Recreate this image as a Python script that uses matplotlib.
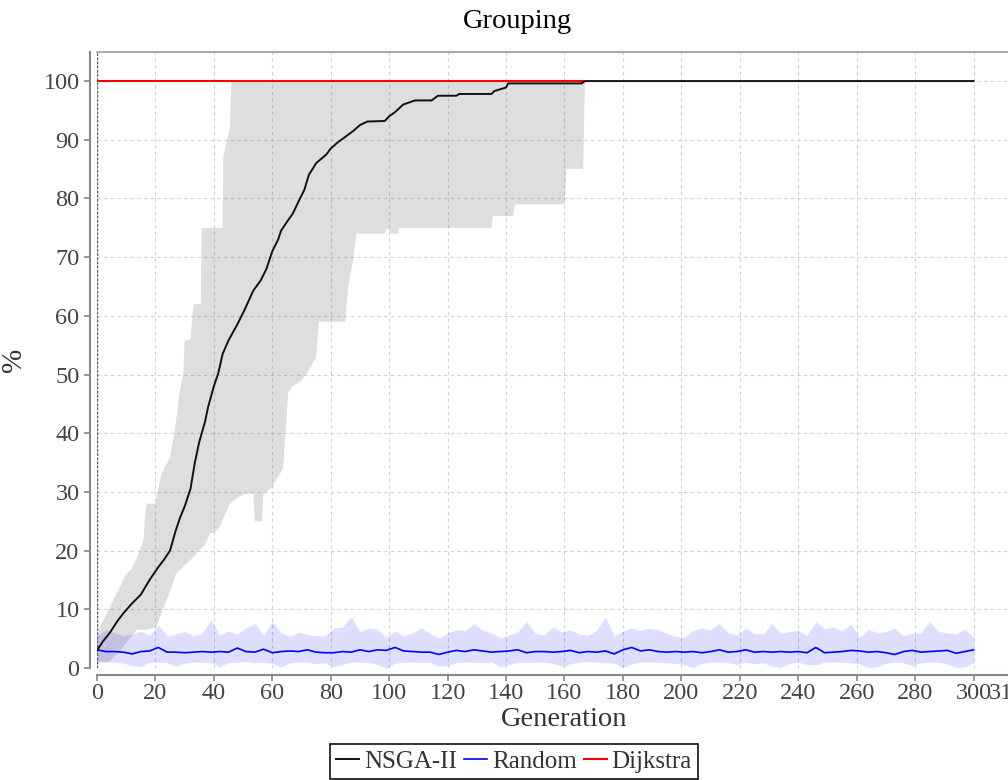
import numpy as np
import matplotlib
matplotlib.use('Agg')
import matplotlib.pyplot as plt
from matplotlib.ticker import FixedLocator, FixedFormatter

plt.rcParams['font.family'] = ['Liberation Serif', 'DejaVu Serif']

# NSGA-II mean (generation, %)
nsga_gen = [0, 2, 4.4, 7, 9, 12, 15, 18, 21, 23, 25, 27, 28.5, 30, 32, 33.5, 35, 37, 38, 40,
            41.5, 43, 45, 48, 50.5, 53.5, 56, 58, 60, 62, 63, 65, 67, 69, 71, 72.5, 75, 78.5,
            80, 82.5, 85, 87.7, 90, 92.5, 98.5, 100, 102, 104.8, 108.8, 114.5, 116.7, 123,
            124, 135, 136, 138, 140, 140.7, 165.8, 167, 300]
nsga_mean = [3, 4.5, 6, 8, 9.3, 11, 12.5, 15, 17.2, 18.5, 20, 23.5, 25.7, 27.5, 30.5, 35, 38.5,
             42, 44.4, 48, 50.2, 53.5, 55.8, 58.5, 61, 64.3, 66, 68, 71, 73, 74.5, 76, 77.4,
             79.5, 81.5, 84, 86, 87.5, 88.5, 89.6, 90.5, 91.5, 92.5, 93.1, 93.2, 94, 94.7, 96,
             96.7, 96.7, 97.5, 97.5, 97.8, 97.8, 98.3, 98.6, 98.9, 99.6, 99.6, 100, 100]

# NSGA-II band
up_gen = [0, 1, 3, 5.5, 8, 10, 12, 14.7, 16, 16.4, 17, 20, 22, 25, 26.5, 28.4, 29.5, 30, 32,
          33, 35.5, 35.8, 43, 43.2, 44.4, 45.5, 46, 167]
up_val = [5, 7, 9, 11.5, 14, 16, 17, 20, 22, 25.7, 28, 28, 33, 36, 40, 47.3, 50, 55.8, 56,
          62, 62, 75, 75, 87, 89.8, 92, 100, 100]
lo_gen = [0, 4, 8, 13.6, 17, 20.4, 22, 25, 27, 30, 32, 35, 37, 38.7, 40, 42, 45.5, 48, 51,
          53.5, 54, 56.5, 57, 60, 63.7, 64.5, 65.5, 67, 70, 72, 75, 76, 85, 86, 87.6, 88.8,
          98.5, 99.5, 100.5, 103, 103.6, 135, 135.5, 142.4, 143, 160, 160.7, 166.4, 167]
lo_val = [1, 1, 3, 6.5, 6.5, 7, 9.3, 13, 16, 17.5, 18.4, 20, 21, 23, 23, 24, 28, 29, 29.7,
          29.7, 25, 25, 29.7, 30.8, 34, 40, 47, 48, 49, 50.3, 53, 59, 59, 65, 69.4, 74, 74,
          75, 74, 74, 75, 75, 77, 77, 79, 79, 85, 85, 100]

# Random (every 3 generations)
rand_mean = [3.1, 2.8, 2.8, 2.7, 2.4, 2.8, 2.9, 3.5, 2.7, 2.7, 2.6, 2.7, 2.8, 2.7, 2.8, 2.7,
             3.4, 2.8, 2.7, 3.2, 2.6, 2.8, 2.9, 2.8, 3.1, 2.7,
             2.6, 2.6, 2.8, 2.7, 3.1, 2.8, 3.1, 3.0, 3.5, 2.9, 2.8, 2.7, 2.7, 2.3, 2.7, 3.0,
             2.8, 3.1, 2.9, 2.7, 2.8, 2.9, 3.1, 2.6, 2.8,
             2.8, 2.7, 2.8, 3.0, 2.6, 2.8, 2.7, 2.9, 2.4, 3.1, 3.5, 2.9, 3.1, 2.8, 2.7, 2.8,
             2.7, 2.8, 2.6, 2.8, 3.1, 2.7, 2.8, 3.1, 2.7,
             2.8, 2.7, 2.8, 2.7, 2.8, 2.6, 3.5, 2.6, 2.7, 2.8, 3.0, 2.9, 2.7, 2.8, 2.6, 2.3,
             2.8, 3.0, 2.7, 2.8, 2.9, 3.0, 2.5, 2.8, 3.1]
rand_up = [5.5, 6.5, 6.0, 5.5, 5.8, 6.3, 5.6, 7.3, 5.4, 5.8, 6.2, 5.5, 5.9, 8.2, 5.6, 6.3,
           5.8, 6.8, 7.6, 5.6, 7.9, 6.0, 5.4, 6.1, 5.7, 5.5,
           5.5, 6.8, 7.0, 8.7, 6.2, 6.8, 6.6, 5.2, 6.3, 5.5, 6.0, 6.8, 5.9, 5.1, 6.0, 6.5,
           6.4, 7.6, 6.4, 6.0, 5.1, 5.6, 6.2, 7.9, 5.9,
           5.6, 7.0, 6.1, 6.5, 5.8, 5.6, 6.4, 8.7, 5.5, 6.3, 6.8, 6.4, 6.8, 6.5, 5.9, 5.4,
           5.2, 6.4, 6.8, 6.5, 7.6, 6.0, 5.6, 6.8, 5.9,
           5.8, 7.6, 5.9, 6.2, 6.4, 5.5, 7.9, 6.7, 7.0, 6.3, 7.5, 5.2, 6.6, 6.0, 6.2, 6.8,
           5.5, 5.9, 6.0, 7.9, 6.2, 6.0, 5.8, 6.6, 5.3]
rand_lo = [1.2, 1.0, 1.0, 0.8, 0.4, 0.2, 1.0, 1.0, 0.9, 0.3, 0.8, 1.0, 1.0, 0.9, 0.2, 0.9,
           1.0, 1.1, 0.9, 1.0, 0.8, 0.1, 0.9, 1.0, 1.0, 0.7,
           0.9, 0.2, 0.6, 1.0, 1.0, 0.9, 0.6, 0.0, 0.8, 1.0, 1.0, 0.9, 1.0, 0.3, 0.4, 0.9,
           1.0, 1.0, 0.9, 1.0, 0.2, 0.6, 1.0, 0.9, 1.0,
           1.0, 0.8, 0.3, 0.7, 1.0, 1.1, 1.0, 0.9, 0.8, 0.1, 0.7, 1.0, 1.0, 1.0, 0.9, 0.8,
           0.5, 0.1, 0.8, 1.0, 1.0, 0.9, 0.6, 1.0, 0.7,
           0.9, 0.3, 0.1, 0.8, 1.0, 0.6, 0.5, 1.0, 1.0, 1.0, 0.9, 0.7, 0.1, 0.2, 0.8, 1.0,
           0.9, 0.4, 0.9, 1.0, 1.0, 0.7, 0.1, 0.2, 0.9]
rand_gen = np.arange(0, 301, 3)

dijkstra_gen = [0, 167]
dijkstra_val = [100, 100]

fig = plt.figure(figsize=(10.08, 7.8), dpi=100)
ax = fig.add_axes([0.0962, 0.1436, 0.9276, 0.7901])

# bands
ax.fill(up_gen + lo_gen[::-1], up_val + lo_val[::-1], color='#808080', alpha=0.26, lw=0)
ax.fill_between(rand_gen, rand_lo, rand_up, color='#0000ff', alpha=0.13, lw=0)

ax.axvline(0, color='#5555aa', lw=1, ls=(0, (2, 1)))
ax.plot(dijkstra_gen, dijkstra_val, color='#ff0000', lw=1.5, label='Dijkstra', zorder=3)
ax.plot(nsga_gen, nsga_mean, color='#111111', lw=1.4, label='NSGA-II', zorder=4)
ax.plot(rand_gen, rand_mean, color='#0000ff', lw=1.2, label='Random', zorder=4)

ax.set_xlim(0, 320)
ax.set_ylim(0, 105)

xt = list(range(0, 301, 20))
ax.xaxis.set_major_locator(FixedLocator(xt))
# partly cut label at the right edge, as in the source image
ax.xaxis.set_minor_locator(FixedLocator([311.5]))
ax.xaxis.set_minor_formatter(FixedFormatter(['310']))
ax.set_yticks(range(0, 101, 10))

ax.grid(True, which='major', color='#d0d0d0', ls=(0, (3, 3)), lw=0.8)
ax.set_axisbelow(True)

for s in ['left', 'bottom']:
    ax.spines[s].set_position(('outward', 5))
    ax.spines[s].set_color('#888888')
    ax.spines[s].set_linewidth(1.5)
ax.spines['top'].set_color('#999999')
ax.spines['top'].set_linewidth(1.2)
ax.spines['right'].set_visible(False)

ax.tick_params(which='both', labelsize=17.5, labelcolor='#444444', color='#888888',
               length=4, width=1.2)
ax.tick_params(axis='x', which='major', pad=2)
ax.tick_params(axis='x', which='minor', length=0, pad=6)

ax.set_xlabel('Generation', fontsize=20.5, color='#333333', labelpad=2)
ax.set_ylabel('%', fontsize=21, color='#333333', labelpad=12)
fig.text(0.513, 0.972, 'Grouping', ha='center', va='center', fontsize=20.5)

h, l = ax.get_legend_handles_labels()
order = [1, 2, 0]
leg = fig.legend([h[i] for i in order], [l[i] for i in order], loc='upper center',
                 bbox_to_anchor=(0.51, 0.046), ncol=3, fontsize=18, frameon=True,
                 fancybox=False, edgecolor='#111111', framealpha=1, handlelength=0.9,
                 handletextpad=0.2, columnspacing=0.3, borderpad=0.25, borderaxespad=0)
leg.get_frame().set_linewidth(1.2)
for t in leg.get_texts():
    t.set_color('#333333')

fig.savefig('out.png', dpi=100)
